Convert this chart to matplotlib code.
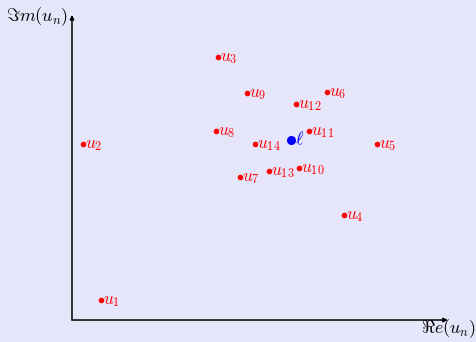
import matplotlib
matplotlib.use("Agg")
import matplotlib.pyplot as plt

plt.rcParams['mathtext.fontset'] = 'cm'

# terms of the sequence in the complex plane
names = [r'$u_{%d}$' % k for k in range(1, 15)]
re_u = [0.97, 0.37, 4.87, 9.07, 10.17, 8.5, 5.6, 4.8, 5.83, 7.57, 7.9, 7.47, 6.57, 6.1]
im_u = [0.67, 5.87, 8.77, 3.5, 5.87, 7.6, 4.77, 6.3, 7.57, 5.07, 6.3, 7.2, 4.97, 5.87]

# the limit
lim_re = 7.3
lim_im = 6.0

bg = '#e6e6fa'

fig = plt.figure(figsize=(4.76, 3.42), dpi=100, facecolor=bg)
ax = fig.add_axes([0, 0, 1, 1])
ax.set_facecolor(bg)
ax.set_xlim(-2.4, 13.467)
ax.set_ylim(-0.733, 10.667)
ax.axis('off')

# axes with arrow heads
arrow = dict(arrowstyle='-|>', mutation_scale=6, lw=1.1, color='black', shrinkA=0, shrinkB=0)
ax.annotate('', xy=(12.53, 0), xytext=(0, 0), arrowprops=arrow)
ax.annotate('', xy=(0, 10.17), xytext=(0, 0), arrowprops=arrow)
ax.text(13.47, -0.43, r'$\Re e(u_n)$', fontsize=13, ha='right', va='baseline')
ax.text(-0.13, 9.97, r'$\Im m(u_n)$', fontsize=13, ha='right', va='baseline')

ax.plot(re_u, im_u, 'o', color='red', markersize=3, zorder=3)
for x, y, s in zip(re_u, im_u, names):
    ax.annotate(s, (x, y), xytext=(1.6, -2.9), textcoords='offset points',
                color='red', fontsize=12.5, ha='left', va='baseline')

ax.plot([lim_re], [lim_im], 'o', color='blue', markersize=5.5, zorder=3)
ax.annotate(r'$\ell$', (lim_re, lim_im), xytext=(3.0, -2.9), textcoords='offset points',
            color='blue', fontsize=13, ha='left', va='baseline')

fig.savefig('out.png', dpi=100, facecolor=bg)
